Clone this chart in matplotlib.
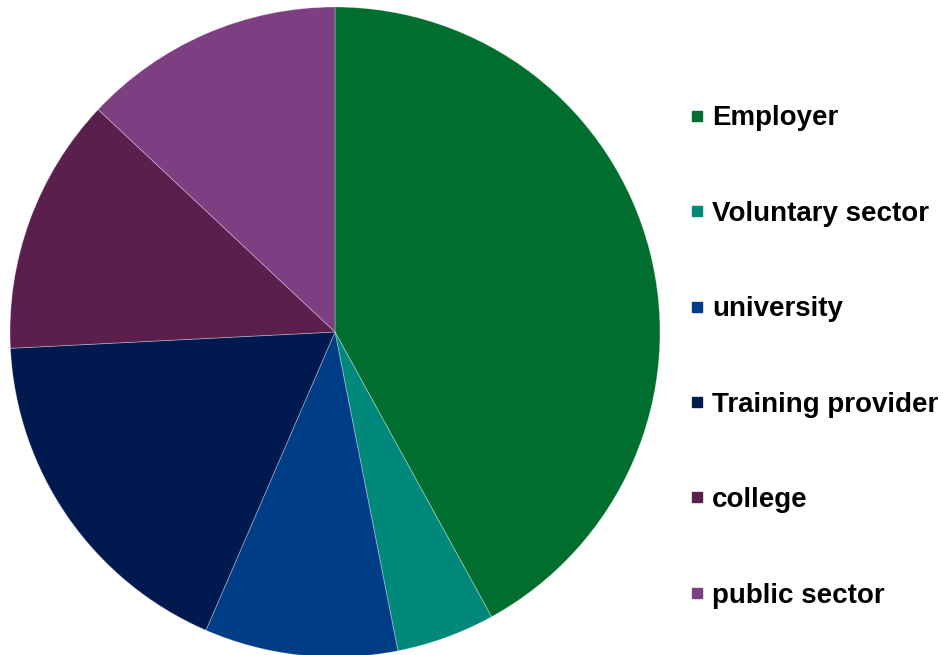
import matplotlib.pyplot as plt
from matplotlib.lines import Line2D

# shares (percent)
labels = ['Employer', 'Voluntary sector', 'university', 'Training provider', 'college', 'public sector']
shares = [42.0, 4.9, 9.6, 17.7, 12.8, 13.0]
colors = ['#006e2e', '#00897b', '#003d87', '#001a4f', '#5a1f4c', '#7e3f82']

fig = plt.figure(figsize=(9.43, 6.55), dpi=100)
W, H = 943, 655
cx, cy, r = 335, 332, 325
ax = fig.add_axes([(cx - r) / W, (H - cy - r) / H, 2 * r / W, 2 * r / H])
ax.pie(shares, colors=colors, startangle=90, counterclock=False, radius=1,
       wedgeprops=dict(linewidth=0.6, edgecolor=(1, 1, 1, 0.35)))
ax.set_xlim(-1, 1)
ax.set_ylim(-1, 1)
ax.set_aspect('auto')
ax.axis('off')

handles = [Line2D([], [], marker='s', linestyle='none', markersize=7,
                  markerfacecolor=c, markeredgecolor=c) for c in colors]
fig.legend(handles, labels, loc='center left', bbox_to_anchor=(691 / W, 1 - 357 / H),
           frameon=False, handlelength=0.45, handletextpad=0.3, labelspacing=2.5,
           borderpad=0, borderaxespad=0,
           prop=dict(family='Liberation Sans', weight='bold', size=20))

fig.savefig('out.png', dpi=100, facecolor='white')
